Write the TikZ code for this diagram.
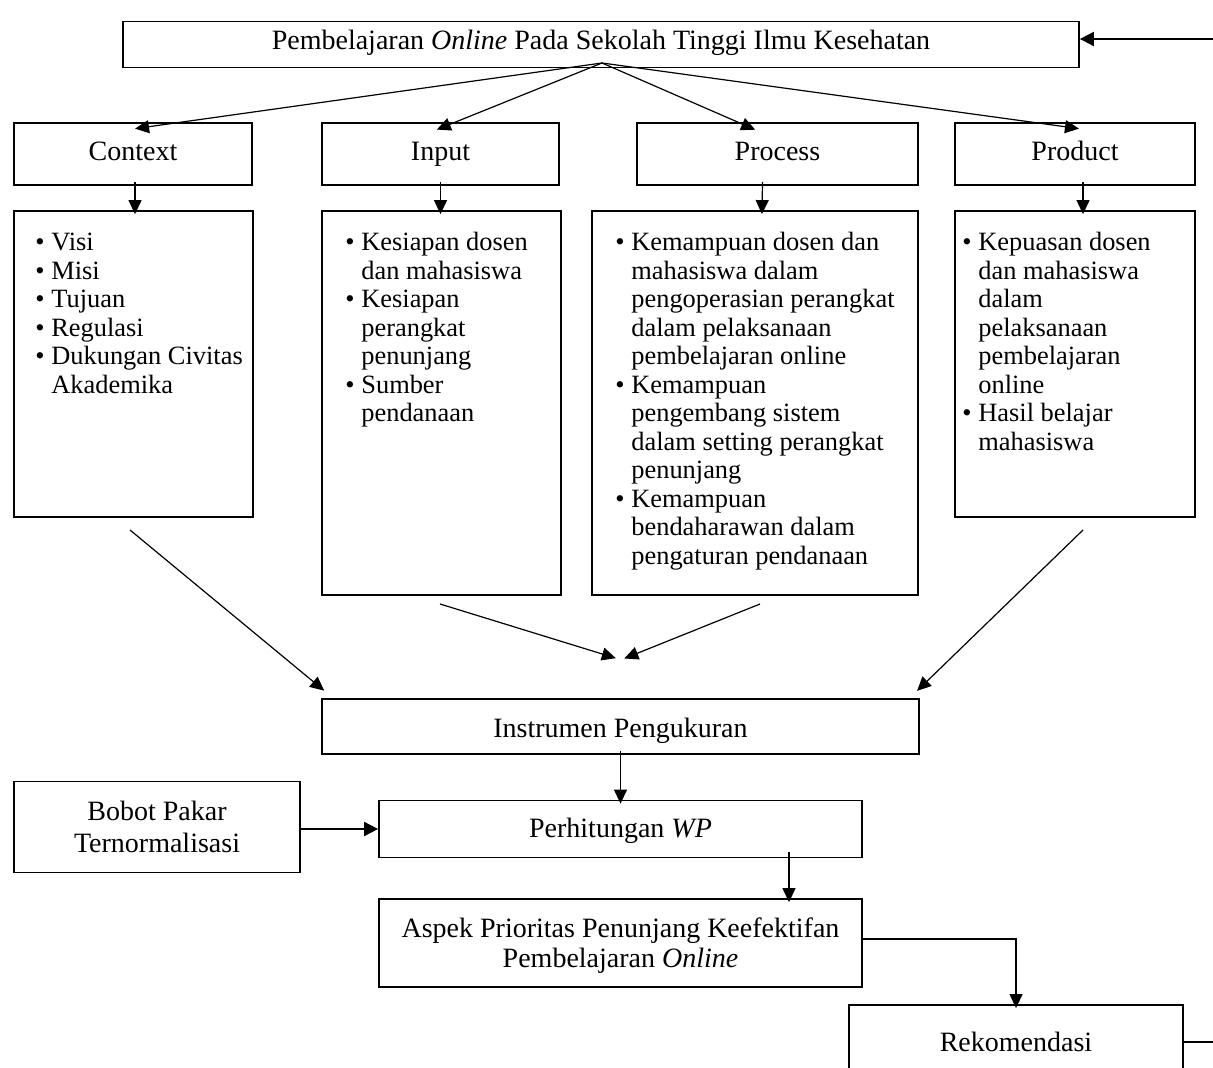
\documentclass[tikz,border=0pt]{standalone}
\usepackage{fontspec}
\setmainfont{Liberation Serif}
\usetikzlibrary{arrows.meta}
\newcommand\fsz{\fontsize{13.2pt}{14.25pt}\selectfont}
\newcommand\fbx{\fontsize{14pt}{15pt}\selectfont}
\newcommand\bitem{\par\spaceskip=0pt\xspaceskip=0pt\rightskip=0pt plus 1fil\noindent\hangindent=8pt\hangafter=1\makebox[8pt][l]{\textbullet}}
\begin{document}
\begin{tikzpicture}[x=0.5pt,y=-0.5pt,
  box/.style={draw, line width=0.9pt, inner sep=0pt, align=center, font=\fbx},
  head/.style={box, text height=8.5pt, text depth=1.5pt},
  txt/.style={inner sep=0pt, align=center, font=\fbx},
  arr/.style={line width=0.6pt, shorten >=-2pt, -{Triangle[length=7pt,width=6.5pt]}},
  tarr/.style={line width=1pt, -{Triangle[length=7pt,width=7pt]}},
  lst/.style={anchor=north west, inner sep=0pt, align=left, font=\fsz}]
\useasboundingbox (0,0) rectangle (1213,1068);
\clip (0,0) rectangle (1213,1068);
% top
\node[box, minimum width=478pt, minimum height=23pt, text height=7.5pt, text depth=2.5pt] (top) at (601,44.5) {Pembelajaran \textit{Online} Pada Sekolah Tinggi Ilmu Kesehatan};
% CIPP heads
\node[head, minimum width=119pt, minimum height=31pt] (ctx) at (133,154) {Context};
\node[head, minimum width=118.5pt, minimum height=31pt] (inp) at (440.5,154) {Input};
\node[head, minimum width=140.5pt, minimum height=31pt] (pro) at (777.5,154) {Process};
\node[head, minimum width=120pt, minimum height=31pt] (prd) at (1075,154) {Product};
% list boxes
\node[box, minimum width=119.5pt, minimum height=153pt] (ctxl) at (133.5,364) {};
\node[box, minimum width=119.5pt, minimum height=192pt] (inpl) at (441.5,403) {};
\node[box, minimum width=163pt, minimum height=192pt] (prol) at (755,403) {};
\node[box, minimum width=120pt, minimum height=153pt] (prdl) at (1075,364) {};
% list texts
\node[lst, text width=110pt] (ctxt) at (35,222) {\bitem Visi\bitem Misi\bitem Tujuan\bitem Regulasi\bitem Dukungan Civitas\newline Akademika\par};
\node[lst, text width=110pt] (inpt) at (345,222) {\bitem Kesiapan dosen\newline dan mahasiswa\bitem Kesiapan\newline perangkat\newline penunjang\bitem Sumber\newline pendanaan\par};
\node[lst, text width=155pt] (prot) at (615,222) {\bitem Kemampuan dosen dan\newline mahasiswa dalam\newline pengoperasian perangkat\newline dalam pelaksanaan\newline pembelajaran online\bitem Kemampuan\newline pengembang sistem\newline dalam setting perangkat\newline penunjang\bitem Kemampuan\newline bendaharawan dalam\newline pengaturan pendanaan\par};
\node[lst, text width=110pt] (prdt) at (962,222) {\bitem Kepuasan dosen\newline dan mahasiswa\newline dalam\newline pelaksanaan\newline pembelajaran\newline online\bitem Hasil belajar\newline mahasiswa\par};
% lower boxes
\node[box, minimum width=298.5pt, minimum height=27.5pt, text height=12pt, text depth=1pt] (ins) at (620.5,726.5) {Instrumen Pengukuran};
\node[box, minimum width=143pt, minimum height=45.5pt] (bob) at (157,827) {Bobot Pakar\\[1pt]Ternormalisasi};
\node[box, minimum width=241.5pt, minimum height=28.5pt, text height=9.5pt, text depth=1.5pt] (per) at (620.5,829) {Perhitungan \textit{WP}};
\node[box, minimum width=241.5pt, minimum height=44pt] (asp) at (620.5,943) {};
\node[txt] (aspt) at ([yshift=-1.5pt]asp.center) {Aspek Prioritas Penunjang Keefektifan\\Pembelajaran \textit{Online}};
\node[box, minimum width=167pt, minimum height=37pt, text height=10pt, text depth=1pt] (rek) at (1016,1042) {Rekomendasi};
% connectors top
\coordinate (fan) at (602,63);
\draw[arr] (fan) -- ([xshift=3pt,yshift=-3pt]ctx.north);
\draw[arr] (fan) -- ([yshift=-3pt]inp.north);
\draw[arr] (fan) -- ([xshift=-13pt,yshift=-3pt]pro.north);
\draw[arr] (fan) -- ([yshift=-3pt]prd.north);
\coordinate (tr) at (1213,39);
\draw[tarr] (tr) -- (tr -| top.east);
% heads to lists
\draw[arr] ([xshift=1pt,yshift=2pt]ctx.south) -- ([xshift=0.75pt]ctxl.north);
\draw[arr] ([yshift=2pt]inp.south) -- ([xshift=-0.5pt]inpl.north);
\draw[arr] ([xshift=-7.5pt,yshift=2pt]pro.south) -- ([xshift=3.5pt]prol.north);
\draw[arr] ([xshift=4pt,yshift=2pt]prd.south) -- ([xshift=4pt]prdl.north);
% lists to instrument
\coordinate (d1) at (130,530);
\coordinate (d2) at (440,604);
\coordinate (d3) at (760,604);
\coordinate (d4) at (1083,530);
\coordinate (m1) at (612,657);
\coordinate (m2) at (628,657);
\draw[arr] (d1) -- ([yshift=5pt]ins.north west);
\draw[arr] (d2) -- (m1);
\draw[arr] (d3) -- (m2);
\draw[arr] (d4) -- ([yshift=5pt]ins.north east);
% lower connectors
\draw[arr] ([yshift=2pt]ins.south) -- (per.north);
\draw[tarr] (bob.east |- per.west) -- (per.west);
\draw[arr] ([xshift=84.25pt,yshift=3pt]per.south) -- ([xshift=84.25pt]asp.north);
\draw[arr] ([yshift=2pt]asp.east) -| (rek.north);
\coordinate (rr) at (1213,1042);
\draw[line width=0.9pt] (rek.east) -- (rr);
\end{tikzpicture}
\end{document}
